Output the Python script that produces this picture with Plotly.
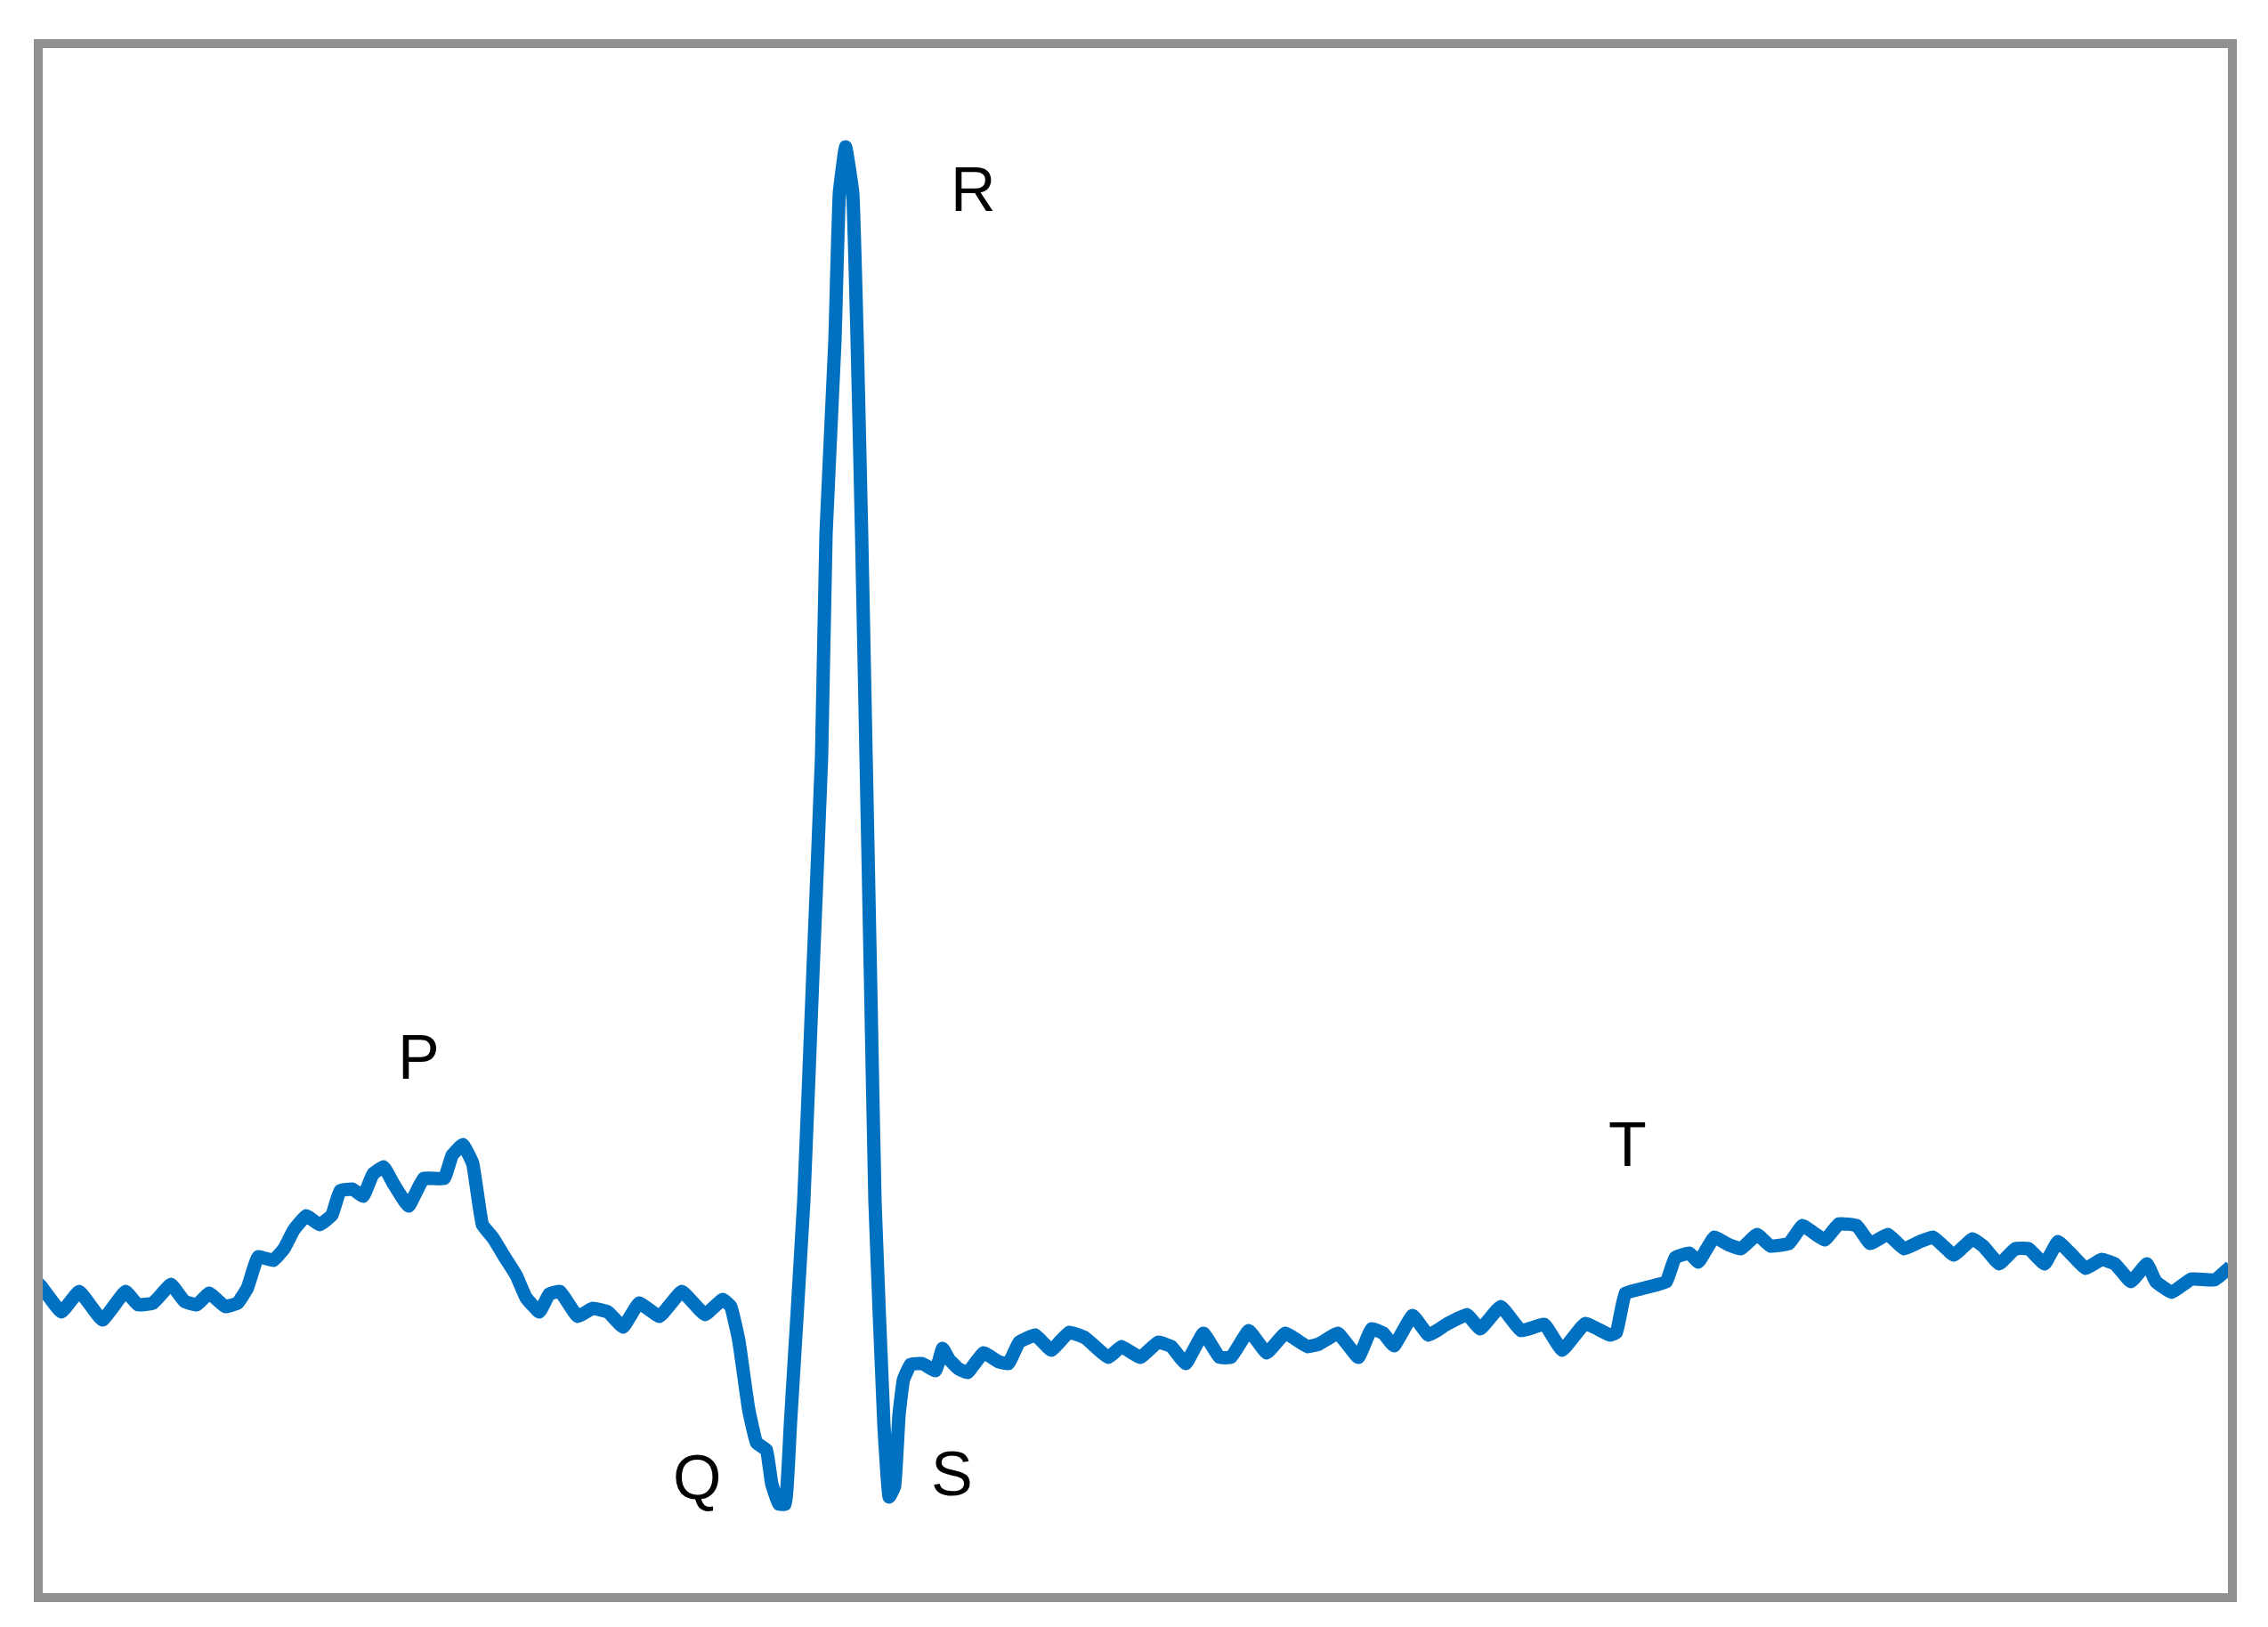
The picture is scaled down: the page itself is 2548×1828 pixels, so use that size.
import plotly.graph_objects as go

# ECG trace: time (ms) and amplitude (mV)
time_ms = [
    0, 1.5, 13, 23, 36, 49, 56, 64.5, 74.5, 82, 89, 96, 105, 112, 117.5,
    123.5, 132, 138, 143.5, 150.5, 158, 165, 169.5, 176.5, 182.5, 188, 194,
    199.5, 208, 216.5, 228, 232.5, 238.5, 244, 249.5, 255.5, 262.5, 268.5,
    274, 281.5, 287, 293, 303, 311.5, 320, 328.5, 337.5, 349, 361.5, 374.5,
    384.5, 389, 393.5, 399, 403.5, 409, 412, 416, 419.5, 422.5, 430, 435,
    440, 442.5, 447.5, 450, 453.5, 457.5, 460, 462.5, 465, 467.5, 470, 475,
    478, 481, 483.5, 486, 490, 496.5, 504, 508, 511.5, 517, 522, 531, 539.5,
    545, 551, 560, 569, 579, 588, 601, 608.5, 619, 629, 636.5, 644.5, 654.5,
    663.5, 670, 680, 690, 700.5, 713, 719.5, 730, 741.5, 749, 755.5, 761.5,
    772, 781, 791, 802.5, 810, 821.5, 833, 846, 856, 869, 883, 886.5, 891.5,
    900.5, 914.5, 919.5, 927.5, 932.5, 941.5, 949, 956.5, 965.5, 973, 983.5,
    991, 1003.5, 1011.5, 1021.5, 1029, 1039, 1048, 1057, 1064.5, 1076,
    1086.5, 1092.5, 1101.5, 1110.5, 1118, 1127, 1134.5, 1141, 1150, 1159,
    1166.5, 1175.5, 1184.5, 1189.5, 1198.5, 1209.5, 1222.5, 1231.5,
]
amplitude_mv = [
    0.018, 0.015, -0.014, 0.009, -0.023, 0.009, -0.006, -0.004, 0.017, -0.002,
    -0.006, 0.007, -0.008, -0.004, 0.013, 0.048, 0.044, 0.057, 0.078, 0.094,
    0.084, 0.095, 0.122, 0.124, 0.116, 0.141, 0.149, 0.130, 0.105, 0.136,
    0.136, 0.162, 0.174, 0.153, 0.084, 0.069, 0.046, 0.027, 0.002, -0.014,
    0.006, 0.009, -0.019, -0.010, -0.014, -0.031, -0.004, -0.019, 0.009,
    -0.017, 0.000, -0.008, -0.046, -0.123, -0.161, -0.169, -0.207, -0.230,
    -0.230, -0.140, 0.110, 0.360, 0.610, 0.860, 1.077, 1.243, 1.295, 1.243,
    1.077, 0.860, 0.610, 0.360, 0.110, -0.140, -0.222, -0.210, -0.130,
    -0.090, -0.073, -0.072, -0.080, -0.055, -0.067, -0.078, -0.082, -0.060,
    -0.070, -0.072, -0.048, -0.040, -0.057, -0.037, -0.043, -0.065, -0.053,
    -0.065, -0.048, -0.053, -0.072, -0.038, -0.065, -0.065, -0.035, -0.060,
    -0.038, -0.053, -0.050, -0.038, -0.065, -0.033, -0.038, -0.052, -0.018,
    -0.040, -0.028, -0.017, -0.033, -0.008, -0.035, -0.028, -0.057, -0.027,
    -0.040, -0.037, 0.007, 0.012, 0.020, 0.047, 0.052, 0.042, 0.070, 0.062,
    0.057, 0.073, 0.060, 0.063, 0.083, 0.067, 0.085, 0.083, 0.063, 0.073,
    0.057, 0.065, 0.070, 0.050, 0.068, 0.060, 0.040, 0.057, 0.057, 0.040,
    0.065, 0.053, 0.035, 0.045, 0.040, 0.020, 0.040, 0.020, 0.008, 0.023,
    0.022, 0.037,
]

# Wave labels and their positions (ms, mV)
label_text = ["P", "Q", "R", "S", "T"]
label_time = [213.5, 370, 525, 513, 892.5]
label_amp = [0.272, -0.200, 1.247, -0.196, 0.174]

x_range = [0, 1232.5]
y_range = [-0.335, 1.411]

fig = go.Figure()
fig.add_trace(go.Scatter(
    x=time_ms, y=amplitude_mv, mode="lines",
    line=dict(color="#0070C0", width=15, shape="spline", smoothing=0.3),
    hoverinfo="skip", showlegend=False,
))

for txt, tx, ty in zip(label_text, label_time, label_amp):
    fig.add_annotation(
        x=tx, y=ty, text=txt, showarrow=False,
        xanchor="center", yanchor="middle",
        font=dict(family="Liberation Sans, Arial, sans-serif", size=70, color="#000000"),
    )

fig.add_shape(
    type="rect", xref="paper", yref="paper", x0=0, y0=0, x1=1, y1=1,
    line=dict(color="#909090", width=10), fillcolor="rgba(0,0,0,0)", layer="above",
)

fig.update_layout(
    width=2548, height=1828,
    margin=dict(l=35, r=48, t=41, b=41, pad=0),
    paper_bgcolor="white", plot_bgcolor="white",
    xaxis=dict(range=x_range, visible=False, showgrid=False, zeroline=False),
    yaxis=dict(range=y_range, visible=False, showgrid=False, zeroline=False),
)

fig.write_html("out.html")
